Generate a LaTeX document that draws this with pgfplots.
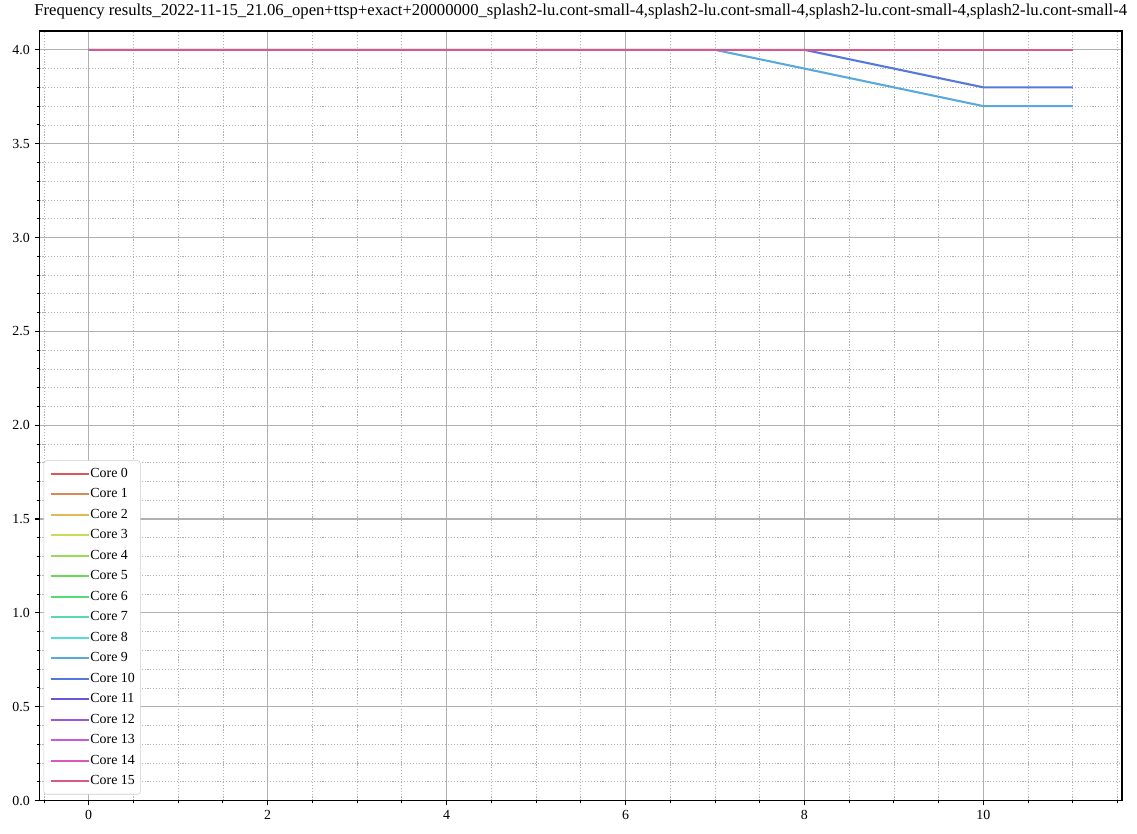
\documentclass[border=0pt]{standalone}
\usepackage{fontspec}
\setmainfont{Liberation Serif}
\usepackage{pgfplots}
\pgfplotsset{compat=1.18}
\usepackage{pgfplotstable}

\definecolor{c0}{rgb}{0.86,0.34,0.34}
\definecolor{c1}{rgb}{0.86,0.535,0.34}
\definecolor{c2}{rgb}{0.86,0.73,0.34}
\definecolor{c3}{rgb}{0.795,0.86,0.34}
\definecolor{c4}{rgb}{0.6,0.86,0.34}
\definecolor{c5}{rgb}{0.405,0.86,0.34}
\definecolor{c6}{rgb}{0.34,0.86,0.47}
\definecolor{c7}{rgb}{0.34,0.86,0.665}
\definecolor{c8}{rgb}{0.34,0.86,0.86}
\definecolor{c9}{rgb}{0.34,0.665,0.86}
\definecolor{c10}{rgb}{0.34,0.47,0.86}
\definecolor{c11}{rgb}{0.405,0.34,0.86}
\definecolor{c12}{rgb}{0.6,0.34,0.86}
\definecolor{c13}{rgb}{0.795,0.34,0.86}
\definecolor{c14}{rgb}{0.86,0.34,0.73}
\definecolor{c15}{rgb}{0.86,0.34,0.535}
\definecolor{majgrid}{HTML}{B0B0B0}
\definecolor{legedge}{HTML}{CCCCCC}

% constant cores (0-8, 11-15)
\pgfplotstableread{
x y
0 4.0
1 4.0
2 4.0
3 4.0
4 4.0
5 4.0
6 4.0
7 4.0
8 4.0
9 4.0
10 4.0
11 4.0
}\flatdata

% core 9
\pgfplotstableread{
x y
0 4.0
1 4.0
2 4.0
3 4.0
4 4.0
5 4.0
6 4.0
7 4.0
8 3.9
9 3.8
10 3.7
11 3.7
}\coreninedata

% core 10
\pgfplotstableread{
x y
0 4.0
1 4.0
2 4.0
3 4.0
4 4.0
5 4.0
6 4.0
7 4.0
8 4.0
9 3.9
10 3.8
11 3.8
}\coretendata

\begin{document}
\begin{tikzpicture}
\begin{axis}[
  set layers=standard,
  at={(0,0)}, anchor=south west,
  scale only axis,
  width=779.4pt, height=554pt,
  xmin=-0.55, xmax=11.55,
  ymin=0, ymax=4.1,
  xtick={0,2,4,6,8,10},
  ytick={0,0.5,1,1.5,2,2.5,3,3.5,4},
  minor xtick={-0.5,0.5,1,1.5,2.5,3,3.5,4.5,5,5.5,6.5,7,7.5,8.5,9,9.5,10.5,11,11.5},
  minor ytick={0.1,0.2,0.3,0.4,0.6,0.7,0.8,0.9,1.1,1.2,1.3,1.4,1.6,1.7,1.8,1.9,2.1,2.2,2.3,2.4,2.6,2.7,2.8,2.9,3.1,3.2,3.3,3.4,3.6,3.7,3.8,3.9},
  xtick pos=left, ytick pos=left,
  tick align=outside,
  major tick length=3.5pt, minor tick length=2pt,
  every tick/.style={black, line width=0.8pt},
  minor tick style={black, line width=0.6pt},
  axis line style={black, line width=0.8pt},
  grid=both,
  major grid style={majgrid, line width=0.8pt},
  minor grid style={majgrid, line width=0.5pt, dash pattern=on 0.8pt off 1.3pt},
  /pgf/number format/assume math mode=true,
  yticklabel style={/pgf/number format/.cd, fixed, fixed zerofill, precision=1},
  xticklabel style={/pgf/number format/.cd, fixed, precision=0},
  tick label style={font=\fontsize{10}{12}\selectfont},
  title={Frequency results\_2022-11-15\_21.06\_open+ttsp+exact+20000000\_splash2-lu.cont-small-4,splash2-lu.cont-small-4,splash2-lu.cont-small-4,splash2-lu.cont-small-4},
  title style={font=\fontsize{12}{14}\selectfont, at={(0.5,1)}, anchor=base, yshift=5pt},
  legend cell align=left,
  legend style={at={(0,0)}, anchor=south west, xshift=3pt, yshift=4.3pt,
    font=\fontsize{10}{12}\selectfont,
    draw=legedge, fill=white,
    rounded corners=2pt,
    nodes={inner sep=0pt, text height=7pt, text depth=2pt},
    row sep=5.75pt, inner xsep=4pt, inner ysep=5pt},
  legend image code/.code={\draw[#1] (0pt,0pt) -- (20pt,0pt); \path (0pt,0pt) -- (28pt,0pt);},
  every axis plot/.append style={line width=1.5pt},
]
\addplot[c0] table {\flatdata}; \addlegendentry{Core 0}
\addplot[c1] table {\flatdata}; \addlegendentry{Core 1}
\addplot[c2] table {\flatdata}; \addlegendentry{Core 2}
\addplot[c3] table {\flatdata}; \addlegendentry{Core 3}
\addplot[c4] table {\flatdata}; \addlegendentry{Core 4}
\addplot[c5] table {\flatdata}; \addlegendentry{Core 5}
\addplot[c6] table {\flatdata}; \addlegendentry{Core 6}
\addplot[c7] table {\flatdata}; \addlegendentry{Core 7}
\addplot[c8] table {\flatdata}; \addlegendentry{Core 8}
\addplot[c9] table {\coreninedata}; \addlegendentry{Core 9}
\addplot[c10] table {\coretendata}; \addlegendentry{Core 10}
\addplot[c11] table {\flatdata}; \addlegendentry{Core 11}
\addplot[c12] table {\flatdata}; \addlegendentry{Core 12}
\addplot[c13] table {\flatdata}; \addlegendentry{Core 13}
\addplot[c14] table {\flatdata}; \addlegendentry{Core 14}
\addplot[c15] table {\flatdata}; \addlegendentry{Core 15}
\node[anchor=south west, inner sep=0pt, font=\fontsize{10}{12}\selectfont] at (rel axis cs:0,1) [yshift=4pt] {1e9};
\end{axis}
\pgfresetboundingbox
\path[use as bounding box] (-28.44pt,-23.4pt) rectangle ++(818.64pt,599.76pt);
\end{tikzpicture}
\end{document}
